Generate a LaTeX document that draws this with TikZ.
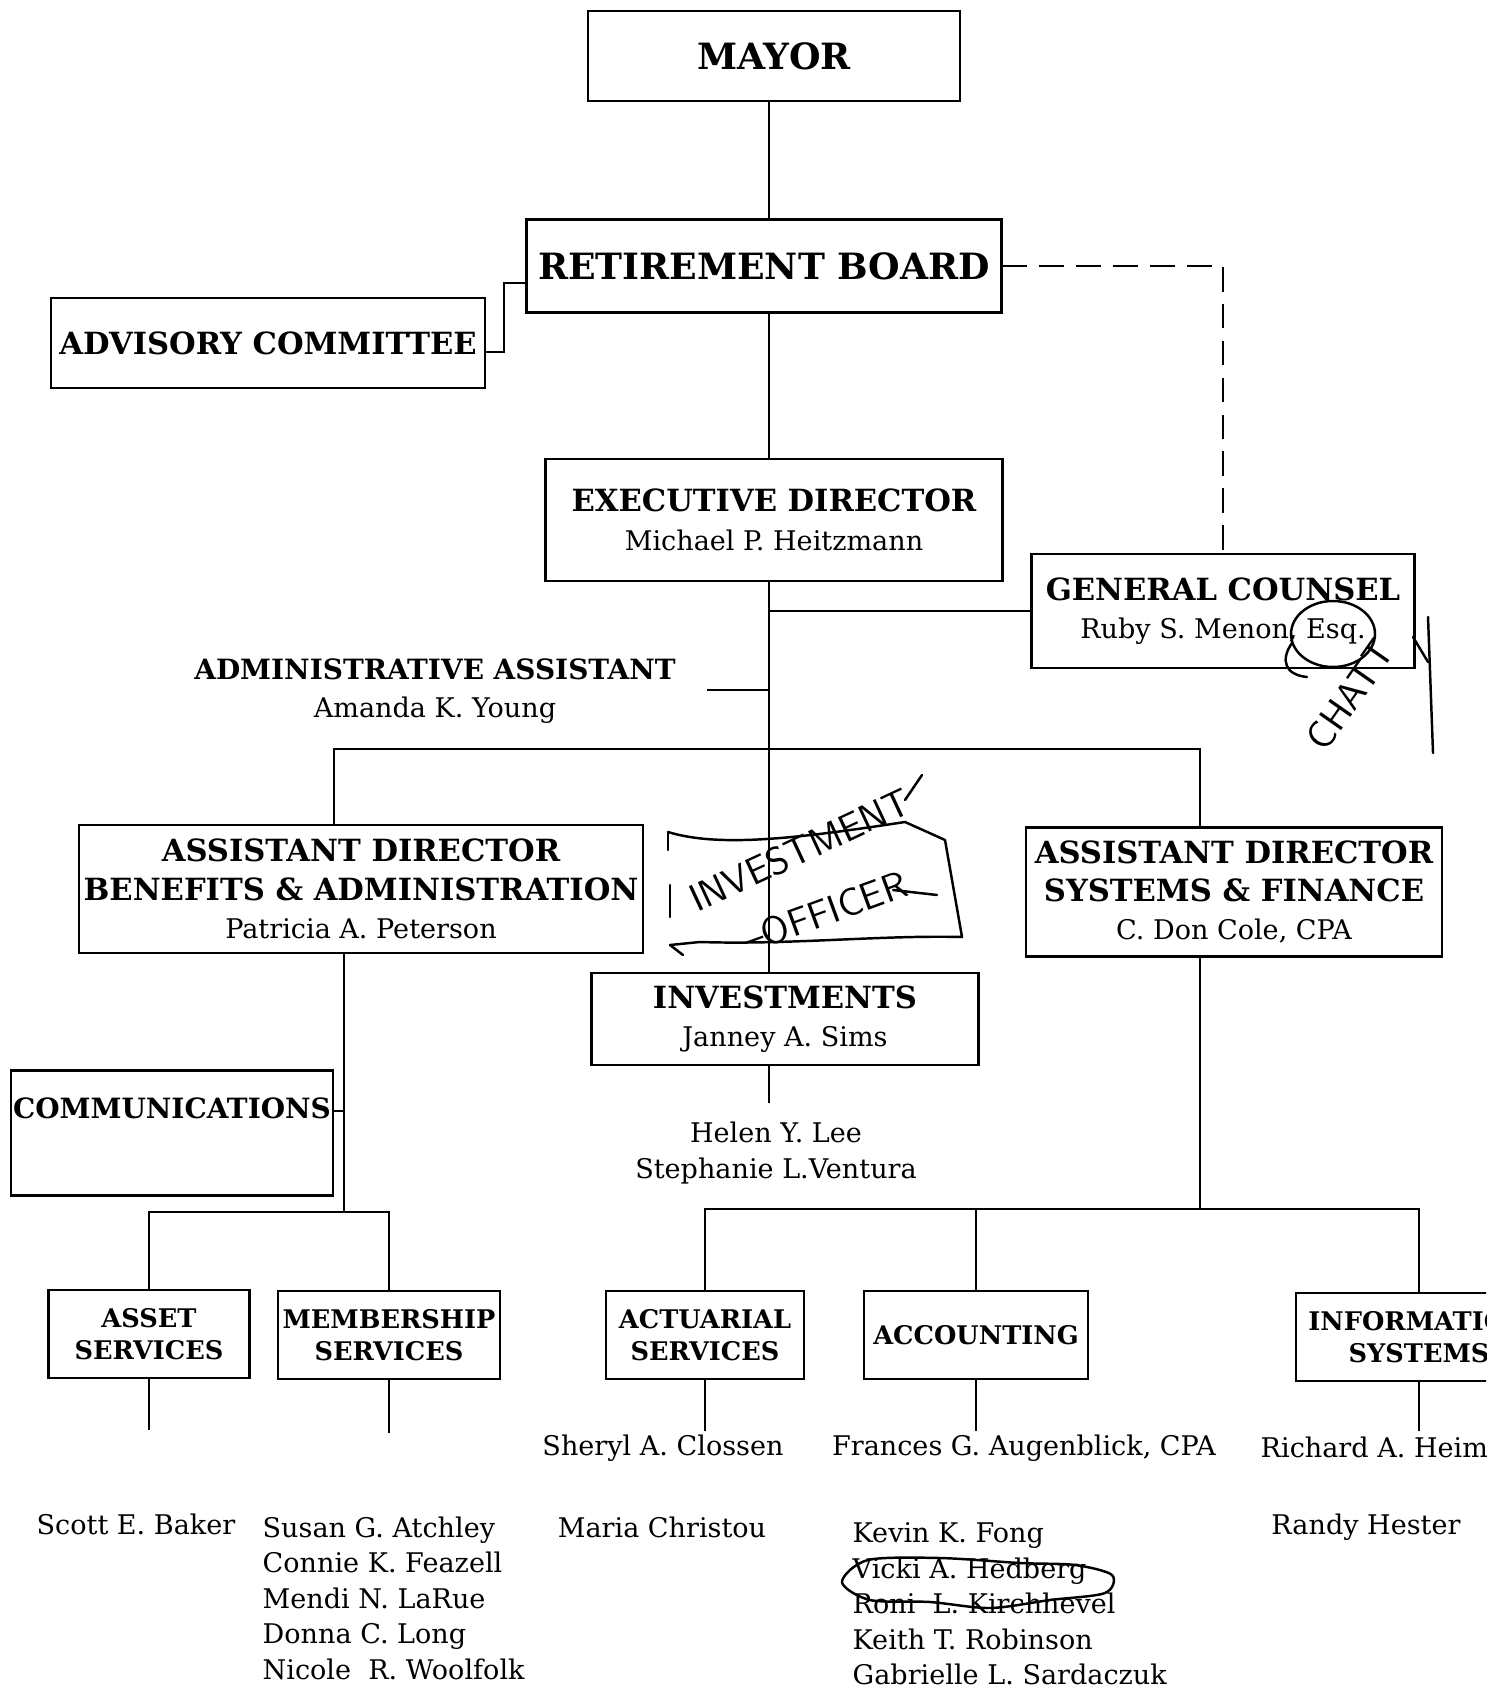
\documentclass[tikz,border=0pt]{standalone}
\usepackage{fontspec}
\setmainfont{DejaVu Serif}
\usepackage{tikz}
\usetikzlibrary{calc}

\newcommand{\bigttl}{\bfseries\fontsize{10.3}{12}\selectfont}
\newcommand{\boxttl}{\bfseries\fontsize{8.7}{10.9}\selectfont}
\newcommand{\smallttl}{\bfseries\fontsize{7.95}{10.8}\selectfont}
\newcommand{\subttl}{\bfseries\fontsize{7.3}{9.2}\selectfont}
\newcommand{\person}{\normalfont\fontsize{7.7}{10.1}\selectfont}
\newcommand{\scrawl}{\sffamily\fontsize{11}{12}\selectfont}

\tikzset{
	unit/.style={draw, line width=0.6pt, inner sep=0pt, align=center},
	link/.style={line width=0.6pt},
	staff/.style={inner sep=0pt, align=left, font=\person},
	pen/.style={line width=0.7pt, line cap=round, line join=round},
}

\begin{document}
\begin{tikzpicture}[x=0.1mm, y=-0.1mm]
		%page frame
		\useasboundingbox (0,0) rectangle (1486,1691);
		\clip (0,0) rectangle (1486,1691);
		
		%trunk and bars
		\coordinate (trunk) at (769,0);
		\coordinate (barL) at (334,749);
		\coordinate (barR) at (1200,749);
		\coordinate (benB) at (344,1212);
		\coordinate (sysB) at (1200,1209);
		\coordinate (admEnd) at (707,690);
		
		%top of the chart
		\node [unit, minimum width=37.2mm, minimum height=9mm, font=\bigttl] (mayor) at (774,56) {MAYOR};
		\node [unit, minimum width=47.5mm, minimum height=9.3mm, font=\bigttl] (board) at (764,266) {RETIREMENT BOARD};
		\node [unit, minimum width=43.4mm, minimum height=9mm, font=\boxttl] (advisory) at (268,343) {ADVISORY COMMITTEE};
		\node [unit, minimum width=45.7mm, minimum height=12.2mm, font=\boxttl] (exec) at (774,520) {EXECUTIVE DIRECTOR\\{\person Michael P. Heitzmann}};
		\node [unit, minimum width=38.3mm, minimum height=11.4mm, font=\boxttl] (counsel) at (1223,611) {GENERAL COUNSEL\\{\person Ruby S. Menon, Esq.}};
		\node [align=center, inner sep=0pt, font=\smallttl] (assistant) at (435,691) {ADMINISTRATIVE ASSISTANT\\{\person Amanda K. Young}};
		
		%assistant directors
		\node [unit, minimum width=56.4mm, minimum height=12.8mm, font=\boxttl] (benefits) at (361,889) {ASSISTANT DIRECTOR\\BENEFITS \& ADMINISTRATION\\{\person Patricia A. Peterson}};
		\node [unit, minimum width=41.6mm, minimum height=12.9mm, font=\boxttl] (systems) at (1234,892) {ASSISTANT DIRECTOR\\SYSTEMS \& FINANCE\\{\person C. Don Cole, CPA}};
		\node [unit, minimum width=38.7mm, minimum height=9.2mm, font=\boxttl] (invest) at (785,1019) {INVESTMENTS\\{\person Janney A. Sims}};
		\node [unit, minimum width=32.2mm, text height=4.8mm, text depth=7.7mm, font=\smallttl] (comm) at (172,1133) {COMMUNICATIONS};
		
		%sections
		\node [unit, minimum width=20.1mm, minimum height=8.8mm, font=\subttl] (asset) at (149,1334) {ASSET\\SERVICES};
		\node [unit, minimum width=22.2mm, minimum height=8.8mm, font=\subttl] (member) at (389,1335) {MEMBERSHIP\\SERVICES};
		\node [unit, minimum width=19.8mm, minimum height=8.8mm, font=\subttl] (actuarial) at (705,1335) {ACTUARIAL\\SERVICES};
		\node [unit, minimum width=22.4mm, minimum height=8.8mm, font=\subttl] (accounting) at (976,1335) {ACCOUNTING};
		\node [unit, minimum width=24.6mm, minimum height=8.8mm, font=\subttl] (info) at (1419,1337) {INFORMATION\\SYSTEMS};
		
		%staff
		\node [align=center, inner sep=0pt, font=\person] (invstaff) at (776,1153) {Helen Y. Lee\\Stephanie L.Ventura};
		\node [inner sep=0pt, font=\person] (actlead) at (663,1448) {Sheryl A. Clossen};
		\node [inner sep=0pt, font=\person] (acclead) at (1024,1448) {Frances G. Augenblick, CPA};
		\node [inner sep=0pt, font=\person, anchor=west] (infolead) at (1260,1447) {Richard A. Heim};
		\node [inner sep=0pt, font=\person] (assetstaff) at (136,1524) {Scott E. Baker};
		\node [staff, anchor=north west] (memberstaff) at (262,1516) {Susan G. Atchley\\Connie K. Feazell\\Mendi N. LaRue\\Donna C. Long\\Nicole\ \ R. Woolfolk};
		\node [inner sep=0pt, font=\person] (actstaff) at (662,1527) {Maria Christou};
		\node [staff, anchor=north west] (accstaff) at (852,1522) {Kevin K. Fong\\Vicki A. Hedberg\\Roni\ \ L. Kirchhevel\\Keith T. Robinson\\Gabrielle L. Sardaczuk};
		\node [inner sep=0pt, font=\person] (infostaff) at (1366,1527) {Randy Hester};
		
		%connectors
		\draw [link] (trunk |- mayor.south) -- (trunk |- board.north);
		\draw [link] (trunk |- board.south) -- (trunk |- exec.north);
		\draw [link] (trunk |- exec.south) -- (trunk |- invest.north);
		\draw [link] (trunk |- invest.south) -- ++(0,37);
		\draw [link] (trunk |- counsel.west) -- (counsel.west);
		\draw [link] (admEnd) -- (trunk |- admEnd);
		\draw [link, dash pattern=on 7pt off 3.5pt] (board.east) -| (counsel.north);
		\draw [link] ($(advisory.east)+(0,9)$) -- ++(18,0) |- ($(board.west)+(0,17)$);
		\draw [link] (barL |- benefits.north) -- (barL) -- (barR) -- (barR |- systems.north);
		
		\coordinate (commTap) at ($(comm.east)+(0,-22)$);
		\draw [link] (benefits.south -| benB) -- (benB);
		\draw [link] (commTap) -- (commTap -| benB);
		\draw [link] (asset.north) |- (benB) -| (member.north);
		\draw [link] (systems.south -| sysB) -- (sysB);
		\draw [link] (actuarial.north) |- (sysB) -| (info.north);
		\draw [link] (accounting.north) -- (accounting.north |- sysB);
		
		\draw [link] (asset.south) -- ++(0,51);
		\draw [link] (member.south) -- ++(0,53);
		\draw [link] (actuarial.south) -- ++(0,51);
		\draw [link] (accounting.south) -- ++(0,51);
		\draw [link] (info.south) -- ++(0,49);
		
		%pen marks
		\draw [pen] (668,832) .. controls (720,848) and (800,838) .. (905,822) -- (945,840) -- (962,937) .. controls (880,935) and (790,945) .. (700,942) -- (670,945) -- (683,955);
		\draw [pen] (668,832) -- (668,850);
		\draw [pen] (670,885) -- (670,917);
		\node [rotate=25, font=\scrawl] (penInvest) at (800,850) {INVESTMENT};
		\node [rotate=20, font=\scrawl] (penOfficer) at (825,912) {--OFFICER};
		\draw [pen] (893,890) -- (937,895);
		\draw [pen] (905,800) -- (922,775);
		
		\draw [pen] (1333,634) ellipse [x radius=42, y radius=33];
		\draw [pen] (1292,643) .. controls (1280,660) and (1285,675) .. (1307,677);
		\node [rotate=55, font=\scrawl] (penChatty) at (1350,695) {CHATT};
		\draw [pen] (1428,617) -- (1433,753);
		\draw [pen] (1413,637) -- (1428,662);
		
		\draw [pen] plot [smooth cycle] coordinates {(842,1582) (868,1560) (940,1558) (1020,1563) (1075,1565) (1112,1575) (1105,1593) (1050,1600) (990,1608) (930,1602) (870,1600)};
	\end{tikzpicture}
\end{document}
